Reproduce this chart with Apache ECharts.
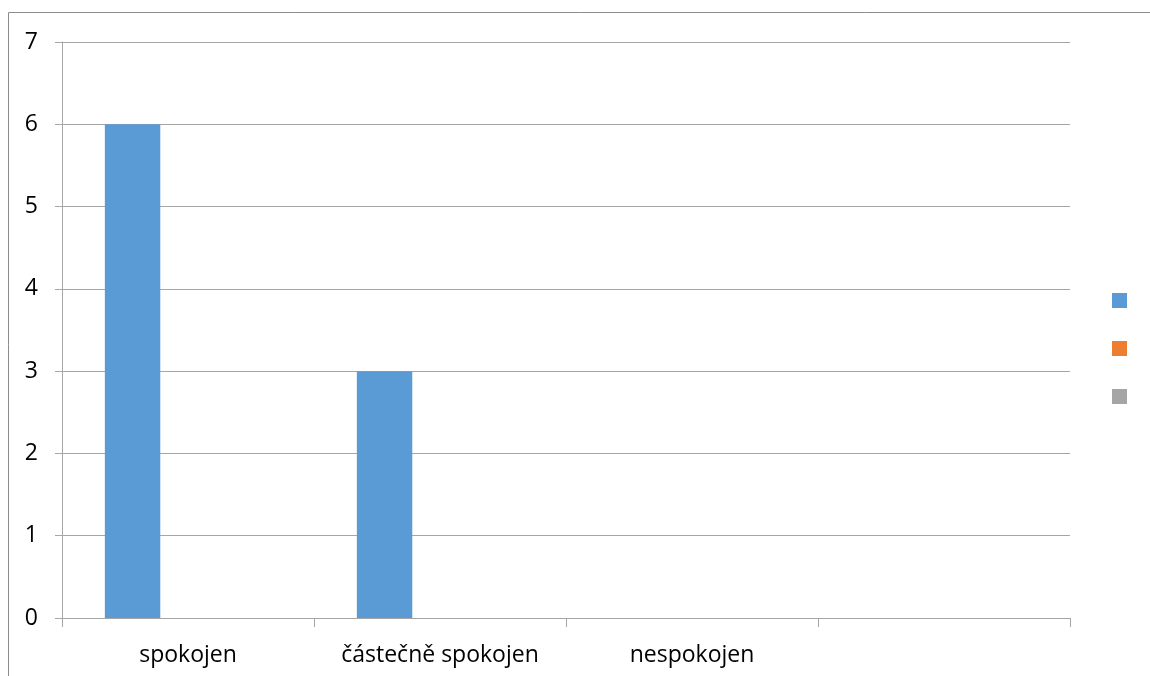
<!DOCTYPE html>
<html>
<head>
<meta charset="utf-8">
<style>
  html, body { margin: 0; padding: 0; background: #ffffff; }
  #chart { width: 1150px; height: 676px; }
</style>
<script src="https://cdn.jsdelivr.net/npm/echarts@6/dist/echarts.min.js"></script>
</head>
<body>
<div id="chart"></div>
<script>
// Categories and series values
const categories = ['spokojen', 'částečně spokojen', 'nespokojen', ''];
const series1 = [6, 3, 0, 0];
const series2 = [0, 0, 0, 0];
const series3 = [0, 0, 0, 0];
const seriesNames = ['Řada 1', 'Řada 2', 'Řada 3'];
const yTicks = { min: 0, max: 7, interval: 1 };

const colors = ['#5b9bd5', '#ed7d31', '#a5a5a5'];
const axisGray = '#a6a6a6';
const font = '"Open Sans", sans-serif';

const chart = echarts.init(document.getElementById('chart'), null, { renderer: 'canvas' });

const values = [series1, series2, series3];

chart.setOption({
  animation: false,
  backgroundColor: '#ffffff',
  color: colors,
  grid: { left: 62, right: 80, top: 42, bottom: 58, containLabel: false },
  legend: {
    orient: 'vertical',
    left: 1107,
    top: 288,
    itemWidth: 15,
    itemHeight: 15,
    itemGap: 33,
    icon: 'rect',
    formatter: () => '',
    data: seriesNames,
    selectedMode: false
  },
  xAxis: {
    type: 'category',
    data: categories,
    boundaryGap: true,
    axisLine: { show: true, lineStyle: { color: axisGray, width: 1 } },
    axisTick: { show: true, length: 9, alignWithLabel: false, lineStyle: { color: axisGray } },
    axisLabel: { color: '#000000', fontSize: 23, fontFamily: font, margin: 26, interval: 0 },
    splitLine: { show: false }
  },
  yAxis: {
    type: 'value',
    min: yTicks.min,
    max: yTicks.max,
    interval: yTicks.interval,
    axisLine: { show: true, lineStyle: { color: axisGray, width: 1 } },
    axisTick: { show: true, length: 7, lineStyle: { color: axisGray } },
    axisLabel: { color: '#000000', fontSize: 23, fontFamily: font, margin: 24 },
    splitLine: { show: true, lineStyle: { color: axisGray, width: 1 } }
  },
  series: seriesNames.map((name, i) => ({
    name: name,
    type: 'bar',
    data: values[i],
    barGap: '0%',
    barCategoryGap: '34%',
    itemStyle: { color: colors[i] },
    emphasis: { disabled: true }
  })),
  graphic: [{
    type: 'rect',
    silent: true,
    z: 100,
    shape: { x: 8.5, y: 12.5, width: 1200, height: 700 },
    style: { fill: 'none', stroke: '#8c8c8c', lineWidth: 1 }
  }]
});
</script>
</body>
</html>
